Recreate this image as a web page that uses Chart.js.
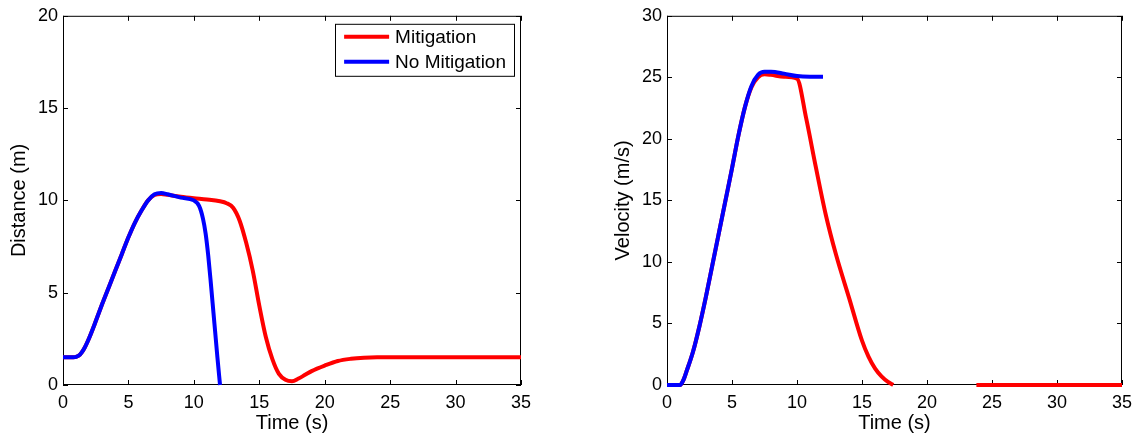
<!DOCTYPE html>
<html>
<head>
<meta charset="utf-8">
<script src="https://cdn.jsdelivr.net/npm/chart.js@4.4.0/dist/chart.umd.min.js"></script>
<style>
  html, body { margin: 0; padding: 0; background: #fff; }
  #wrap { position: relative; width: 1139px; height: 436px; overflow: hidden; }
  canvas { position: absolute; top: 0; }
</style>
</head>
<body>
<div id="wrap">
  <canvas id="distChart" width="560" height="436" style="left:0"></canvas>
  <canvas id="velChart" width="535" height="436" style="left:604px"></canvas>
</div>
<script>
// tick labels
const timeTicks = [0, 5, 10, 15, 20, 25, 30, 35];
const distTicks = [0, 5, 10, 15, 20];
const velTicks = [0, 5, 10, 15, 20, 25, 30];

const seriesNames = ['Mitigation', 'No Mitigation'];
const seriesColors = ['#ff0000', '#0000ff'];

// distance (m) - mitigation
const distMitTime = [0, 0.8, 1.0, 1.3, 1.6, 2, 2.5, 3, 3.5, 4, 4.5, 5, 5.5, 6, 6.5, 7, 7.5, 8, 9, 10, 11,
  12, 12.5, 13, 13.5, 14, 14.5, 15, 15.5, 16, 16.5, 17, 17.5, 18, 18.5, 19, 20, 21, 22, 23, 24, 35];
const distMitVal = [1.5, 1.5, 1.52, 1.65, 1.95, 2.55, 3.45, 4.4, 5.3, 6.2, 7.1, 8.0, 8.8, 9.45, 10.0, 10.3, 10.35, 10.3, 10.2, 10.12, 10.05,
  9.95, 9.85, 9.6, 8.9, 7.7, 6.2, 4.3, 2.6, 1.4, 0.6, 0.28, 0.2, 0.35, 0.55, 0.75, 1.05, 1.3, 1.42, 1.48, 1.5, 1.5];

// distance (m) - no mitigation
const distNoTime = [0, 0.8, 1.0, 1.3, 1.6, 2, 2.5, 3, 3.5, 4, 4.5, 5, 5.5, 6, 6.5, 7, 7.5, 8, 9, 10,
  10.4, 10.7, 10.9, 11.1, 11.3, 11.5, 11.65, 11.8, 12];
const distNoVal = [1.5, 1.5, 1.52, 1.65, 1.95, 2.55, 3.45, 4.4, 5.3, 6.2, 7.1, 8.0, 8.8, 9.45, 10.0, 10.33, 10.4, 10.33, 10.15, 10.0,
  9.7, 9.0, 8.2, 7.0, 5.5, 3.9, 2.7, 1.5, 0];

// velocity (m/s) - mitigation (null = not drawn)
const velMitTime = [0, 1, 1.3, 1.5, 2, 2.5, 3, 3.5, 4, 4.5, 5, 5.5, 6, 6.5, 7, 7.5, 8, 9, 10,
  10.7, 11.45, 12.2, 13, 14, 15, 15.5, 16, 16.5, 17, 17.4, 20, 23.8, 35];
const velMitVal = [0, 0, 0.5, 1.1, 2.7, 4.8, 7.2, 9.8, 12.4, 15.0, 17.6, 20.3, 22.6, 24.2, 25.0, 25.25, 25.2, 25.05, 24.9,
  21.7, 17.7, 13.9, 10.6, 7.1, 3.6, 2.3, 1.35, 0.7, 0.25, 0, null, 0, 0];

// velocity (m/s) - no mitigation
const velNoTime = [0, 1, 1.3, 1.5, 2, 2.5, 3, 3.5, 4, 4.5, 5, 5.5, 6, 6.5, 7, 7.5, 8, 9, 10, 11, 12];
const velNoVal = [0, 0, 0.5, 1.1, 2.7, 4.8, 7.2, 9.8, 12.4, 15.0, 17.6, 20.3, 22.6, 24.3, 25.2, 25.45, 25.45, 25.3, 25.1, 25.05, 25.05];

Chart.defaults.font.family = '"Liberation Sans", Arial, Helvetica, sans-serif';
Chart.defaults.font.size = 18;
Chart.defaults.color = '#000';

function toPoints(xs, ys) {
  return xs.map((x, i) => ({ x: x, y: ys[i] }));
}

function makeDataset(i, xs, ys) {
  return {
    label: seriesNames[i],
    data: toPoints(xs, ys),
    borderColor: seriesColors[i],
    backgroundColor: seriesColors[i],
    borderWidth: 4,
    pointRadius: 0,
    cubicInterpolationMode: 'monotone',
    spanGaps: false,
    clip: false,
    order: i === 1 ? 0 : 1
  };
}

// MATLAB style box with inward ticks on all four sides
const boxPlugin = {
  id: 'boxPlugin',
  beforeDatasetsDraw(chart) {
    const { ctx, chartArea: a, scales } = chart;
    ctx.save();
    ctx.strokeStyle = '#000';
    ctx.lineWidth = 1;
    ctx.strokeRect(a.left + 0.5, a.top + 0.5, a.right - a.left - 1, a.bottom - a.top - 1);
    ctx.beginPath();
    scales.x.ticks.forEach(t => {
      const px = Math.round(scales.x.getPixelForValue(t.value)) + 0.5;
      ctx.moveTo(px, a.bottom); ctx.lineTo(px, a.bottom - 5);
      ctx.moveTo(px, a.top); ctx.lineTo(px, a.top + 5);
    });
    scales.y.ticks.forEach(t => {
      const py = Math.round(scales.y.getPixelForValue(t.value)) + 0.5;
      ctx.moveTo(a.left, py); ctx.lineTo(a.left + 5, py);
      ctx.moveTo(a.right, py); ctx.lineTo(a.right - 5, py);
    });
    ctx.stroke();
    ctx.restore();
  }
};

// legend box inside the plot, top right
const insideLegend = {
  id: 'insideLegend',
  afterDatasetsDraw(chart) {
    const { ctx, chartArea: a } = chart;
    const sets = chart.data.datasets;
    ctx.save();
    ctx.font = '19px "Liberation Sans", Arial, sans-serif';
    const textW = Math.max(...sets.map(d => ctx.measureText(d.label).width));
    const w = 9 + 45 + 6 + textW + 8;
    const h = 52;
    const x0 = a.right - 7 - w;
    const y0 = a.top + 8;
    ctx.fillStyle = '#fff';
    ctx.fillRect(x0, y0, w, h);
    ctx.strokeStyle = '#000';
    ctx.lineWidth = 1;
    ctx.strokeRect(Math.round(x0) + 0.5, y0 + 0.5, Math.round(w), h);
    sets.forEach((d, i) => {
      const cy = y0 + 13 + i * 25;
      ctx.strokeStyle = d.borderColor;
      ctx.lineWidth = 4;
      ctx.beginPath();
      ctx.moveTo(x0 + 9, cy);
      ctx.lineTo(x0 + 54, cy);
      ctx.stroke();
      ctx.fillStyle = '#000';
      ctx.textBaseline = 'middle';
      ctx.fillText(d.label, x0 + 60, cy + 1);
    });
    ctx.restore();
  }
};

function makeOptions(yMax, yTicks, yTitle, rightPad) {
  return {
    responsive: false,
    animation: false,
    layout: { padding: { top: 14, right: rightPad, left: 0, bottom: 0 } },
    plugins: { legend: { display: false }, tooltip: { enabled: false } },
    scales: {
      x: {
        type: 'linear',
        min: 0,
        max: 35,
        afterBuildTicks: s => { s.ticks = timeTicks.map(v => ({ value: v })); },
        afterFit: s => { s.height = 51; },
        grid: { display: false, drawTicks: false },
        border: { display: false },
        ticks: { padding: 7, maxRotation: 0, autoSkip: false },
        title: { display: true, text: 'Time (s)', font: { size: 20 }, padding: { top: 0, bottom: 1 } }
      },
      y: {
        type: 'linear',
        min: 0,
        max: yMax,
        afterBuildTicks: s => { s.ticks = yTicks.map(v => ({ value: v })); },
        afterFit: s => { s.width = 63; },
        grid: { display: false, drawTicks: false },
        border: { display: false },
        ticks: { padding: 5, autoSkip: false },
        title: { display: true, text: yTitle, font: { size: 20 }, padding: { top: 7, bottom: 0 } }
      }
    }
  };
}

new Chart(document.getElementById('distChart'), {
  type: 'line',
  data: {
    datasets: [
      makeDataset(0, distMitTime, distMitVal),
      makeDataset(1, distNoTime, distNoVal)
    ]
  },
  options: makeOptions(20, distTicks, 'Distance (m)', 39),
  plugins: [boxPlugin, insideLegend]
});

new Chart(document.getElementById('velChart'), {
  type: 'line',
  data: {
    datasets: [
      makeDataset(0, velMitTime, velMitVal),
      makeDataset(1, velNoTime, velNoVal)
    ]
  },
  options: makeOptions(30, velTicks, 'Velocity (m/s)', 13),
  plugins: [boxPlugin]
});
</script>
</body>
</html>
